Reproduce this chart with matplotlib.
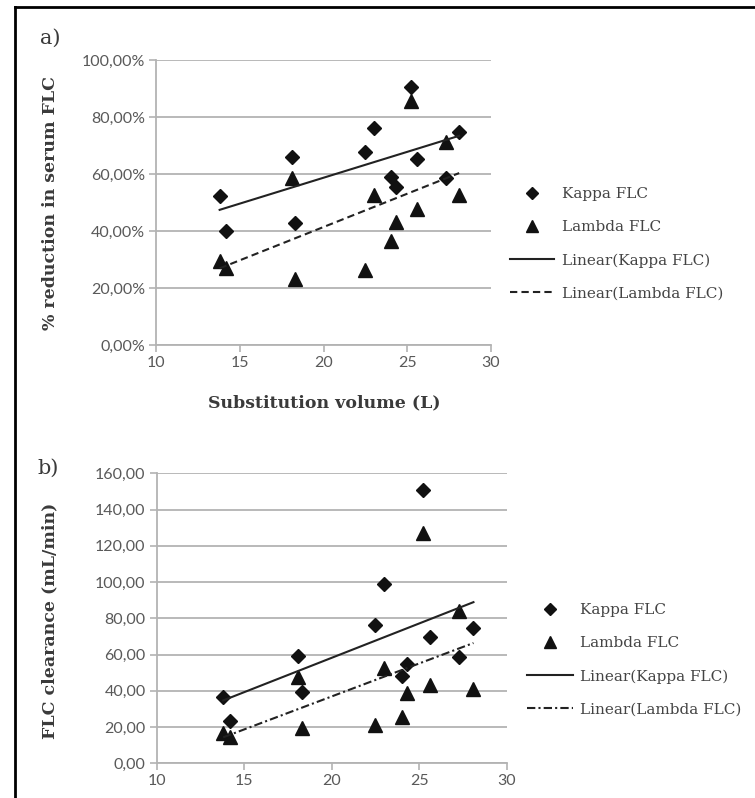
import numpy as np
import matplotlib
matplotlib.use("Agg")
import matplotlib.pyplot as plt
from matplotlib.lines import Line2D
from matplotlib.ticker import FuncFormatter, MultipleLocator

# substitution volume (L), one value per patient
volume = [13.8, 14.2, 18.1, 18.3, 22.5, 23.0, 24.0, 24.3, 25.2, 25.6, 27.3, 28.1]

# a) % reduction in serum FLC
kappa_red = [52.4, 40.0, 66.1, 42.7, 67.7, 76.0, 58.8, 55.6, 90.6, 65.1, 58.7, 74.9]
lambda_red = [29.5, 26.9, 58.5, 23.2, 26.3, 52.6, 36.5, 43.0, 85.7, 47.6, 71.4, 52.6]

# b) FLC clearance (mL/min)
kappa_clr = [36.8, 23.5, 59.2, 39.5, 76.3, 98.9, 48.2, 54.8, 150.8, 69.5, 58.9, 74.5]
lambda_clr = [16.9, 14.7, 47.8, 19.3, 21.1, 52.4, 25.4, 38.6, 126.9, 43.2, 84.2, 41.0]

legend_labels = ["Kappa FLC", "Lambda FLC", "Linear(Kappa FLC)", "Linear(Lambda FLC)"]

SERIF = "DejaVu Serif"
SANS = "Lato"
TICK_C = "#595959"
GRID_C = "#b3b3b3"
TXT_C = "#3a3a3a"

W, H = 755, 798
fig = plt.figure(figsize=(W / 100, H / 100), dpi=100)


def px_axes(left, right, top, bottom):
    return fig.add_axes([left / W, 1 - bottom / H, (right - left) / W, (bottom - top) / H])


def style(ax, ymax, ystep, fmt):
    ax.set_xlim(10, 30)
    ax.set_ylim(0, ymax)
    ax.xaxis.set_major_locator(MultipleLocator(5))
    ax.yaxis.set_major_locator(MultipleLocator(ystep))
    ax.yaxis.set_major_formatter(FuncFormatter(fmt))
    ax.grid(axis="y", color=GRID_C, lw=1.3)
    ax.set_axisbelow(True)
    for s in ["top", "right"]:
        ax.spines[s].set_visible(False)
    for s in ["left", "bottom"]:
        ax.spines[s].set_color(GRID_C)
        ax.spines[s].set_linewidth(1.3)
    ax.tick_params(direction="out", length=5, width=1.2, color=GRID_C, pad=3,
                   labelcolor=TICK_C, labelsize=11.5)
    for t in ax.get_xticklabels() + ax.get_yticklabels():
        t.set_fontfamily(SANS)


def draw(ax, ky, ly, lam_style):
    x = np.array(volume)
    ax.plot(x, ky, ls="none", marker="D", ms=7.5, color="#111111", label=legend_labels[0])
    ax.plot(x, ly, ls="none", marker="^", ms=10, color="#111111", label=legend_labels[1])
    xs = np.array([x.min(), x.max()])
    kf = np.polyfit(x, ky, 1)
    lf = np.polyfit(x, ly, 1)
    ax.plot(xs, np.polyval(kf, xs), color="#222222", lw=1.5, label=legend_labels[2])
    ax.plot(xs, np.polyval(lf, xs), color="#222222", lw=1.5, ls=lam_style, label=legend_labels[3])


def legend(ax, xpx, ypx, hl):
    ax.legend(loc="center left", bbox_to_anchor=(xpx / W, 1 - ypx / H),
              bbox_transform=fig.transFigure, frameon=False, numpoints=1,
              borderpad=0, borderaxespad=0, handlelength=hl, handletextpad=0.5,
              labelspacing=1.25, markerscale=0.8, prop={"family": SERIF, "size": 11},
              labelcolor="#444444")


# panel a
ax1 = px_axes(156, 491, 60, 345)
draw(ax1, kappa_red, lambda_red, (0, (3.5, 2)))
style(ax1, 100, 20, lambda v, p: f"{v:.2f}".replace(".", ",") + "%")
legend(ax1, 510, 244, 2.9)

# panel b
ax2 = px_axes(156.7, 506.7, 473.3, 763.3)
draw(ax2, kappa_clr, lambda_clr, (0, (4, 1.5, 1, 1.5)))
style(ax2, 160, 20, lambda v, p: f"{v:.2f}".replace(".", ","))
legend(ax2, 527, 660, 3.0)

# labels
fig.text(50 / W, 1 - 38 / H, "a)", family=SERIF, size=15, color=TXT_C, ha="center", va="center")
fig.text(48 / W, 1 - 468 / H, "b)", family=SERIF, size=15, color=TXT_C, ha="center", va="center")
fig.text(51 / W, 1 - 203 / H, "% reduction in serum FLC", family=SERIF, weight="bold",
         size=12.5, color=TXT_C, rotation=90, ha="center", va="center")
fig.text(324 / W, 1 - 403 / H, "Substitution volume (L)", family=SERIF, weight="bold",
         size=12.5, color=TXT_C, ha="center", va="center")
fig.text(50 / W, 1 - 621 / H, "FLC clearance (mL/min)", family=SERIF, weight="bold",
         size=12.5, color=TXT_C, rotation=90, ha="center", va="center")

# outer frame (top and left edges only)
fig.add_artist(Line2D([15 / W, 1], [1 - 7 / H, 1 - 7 / H], transform=fig.transFigure,
                      color="black", lw=2))
fig.add_artist(Line2D([15 / W, 15 / W], [0, 1 - 7 / H], transform=fig.transFigure,
                      color="black", lw=2))

fig.savefig("out.png", dpi=100)
